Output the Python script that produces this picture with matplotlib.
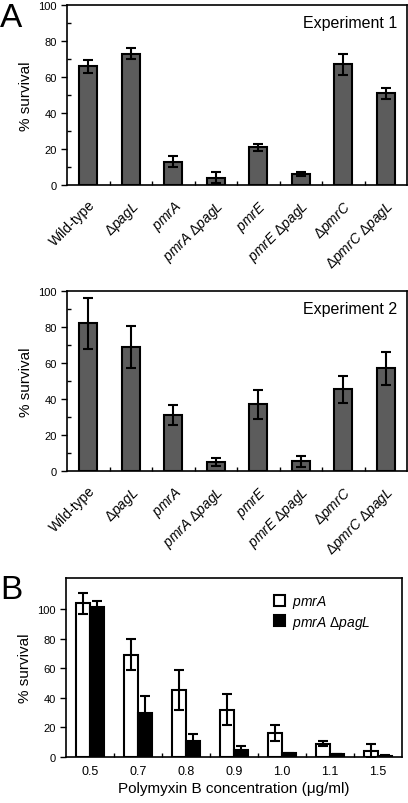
import numpy as np
import matplotlib
matplotlib.use('Agg')
import matplotlib.pyplot as plt
from matplotlib.ticker import MultipleLocator, FixedLocator

plt.rcParams['font.family'] = ['Liberation Sans', 'DejaVu Sans']
plt.rcParams['mathtext.fontset'] = 'custom'
plt.rcParams['mathtext.rm'] = 'Liberation Sans'
plt.rcParams['mathtext.it'] = 'Liberation Sans:italic'

# strains (panel A)
strains = ['Wild-type', r'$\Delta\mathit{pagL}$', r'$\mathit{pmrA}$',
           r'$\mathit{pmrA}$ $\Delta\mathit{pagL}$', r'$\mathit{pmrE}$',
           r'$\mathit{pmrE}$ $\Delta\mathit{pagL}$', r'$\Delta\mathit{pmrC}$',
           r'$\Delta\mathit{pmrC}$ $\Delta\mathit{pagL}$']
exp1 = [66, 73, 13, 4, 21, 6, 67, 51]
exp1_err = [3.5, 3, 3, 3, 2, 1, 6, 3]
exp2 = [82, 69, 31, 5, 37, 5.5, 45.5, 57]
exp2_err = [14, 11.5, 5.5, 2, 8, 3, 7.5, 9]

# panel B
conc = ['0.5', '0.7', '0.8', '0.9', '1.0', '1.1', '1.5']
pmrA = [104, 69, 45, 32, 16, 9, 4]
pmrA_err = [7, 10.5, 13.5, 10.5, 5.5, 1.5, 4.5]
pmrA_pagL = [101.5, 30, 10.5, 5, 2.5, 2, 1]
pmrA_pagL_err = [4, 11, 5, 2.5, 0.5, 0.3, 0.2]

W, H = 408, 804
fig = plt.figure(figsize=(W / 100, H / 100), dpi=100)

def ax_at(left, top, right, bottom):
    return fig.add_axes([left / W, 1 - bottom / H, (right - left) / W, (bottom - top) / H])

def panel_a(ax, vals, errs, title):
    x = np.arange(len(vals))
    ax.bar(x, vals, width=0.42, color='#5c5c5c', edgecolor='black', linewidth=1.5, zorder=2)
    ax.errorbar(x, vals, yerr=errs, fmt='none', ecolor='black', elinewidth=1.5,
                capsize=3.5, capthick=1.5, zorder=3)
    ax.set_xlim(-0.5, len(vals) - 0.5)
    ax.set_ylim(0, 100)
    ax.yaxis.set_major_locator(MultipleLocator(20))
    ax.yaxis.set_minor_locator(MultipleLocator(10))
    ax.tick_params(axis='y', which='major', direction='out', length=4, width=1, labelsize=8)
    ax.tick_params(axis='y', which='minor', direction='in', length=3, width=1)
    ax.set_xticks(x)
    ax.set_xticklabels(strains, rotation=45, ha='right', rotation_mode='anchor', fontsize=10)
    ax.xaxis.set_minor_locator(FixedLocator(x[:-1] + 0.5))
    ax.tick_params(axis='x', which='major', length=0, pad=9)
    ax.tick_params(axis='x', which='minor', direction='in', length=3, width=1)
    ax.set_ylabel('% survival', fontsize=11, labelpad=4)
    ax.text(0.97, 0.905, title, transform=ax.transAxes, ha='right', va='center', fontsize=11.5)
    for s in ax.spines.values():
        s.set_linewidth(1.2)

ax1 = ax_at(67, 6, 407, 186)
panel_a(ax1, exp1, exp1_err, 'Experiment 1')
ax2 = ax_at(67, 292, 407, 472)
panel_a(ax2, exp2, exp2_err, 'Experiment 2')

ax3 = ax_at(66, 579, 402, 758)
xb = np.arange(len(conc))
bw = 0.29
ax3.bar(xb - bw / 2, pmrA, width=bw, color='white', edgecolor='black', linewidth=1.5,
        label=r'$\mathit{pmrA}$', zorder=2)
ax3.bar(xb + bw / 2, pmrA_pagL, width=bw, color='black', edgecolor='black', linewidth=1.5,
        label=r'$\mathit{pmrA}$ $\Delta\mathit{pagL}$', zorder=2)
ax3.errorbar(xb - bw / 2, pmrA, yerr=pmrA_err, fmt='none', ecolor='black', elinewidth=1.5,
             capsize=3.5, capthick=1.5, zorder=3)
ax3.errorbar(xb + bw / 2, pmrA_pagL, yerr=pmrA_pagL_err, fmt='none', ecolor='black',
             elinewidth=1.5, capsize=3.5, capthick=1.5, zorder=3)
ax3.set_xlim(-0.5, len(conc) - 0.5)
ax3.set_ylim(0, 121)
ax3.yaxis.set_major_locator(FixedLocator([0, 20, 40, 60, 80, 100]))
ax3.tick_params(axis='y', direction='out', length=4, width=1, labelsize=8)
ax3.set_xticks(xb)
ax3.set_xticklabels(conc, fontsize=9)
ax3.xaxis.set_minor_locator(FixedLocator(xb[:-1] + 0.5))
ax3.tick_params(axis='x', which='major', length=0, pad=6)
ax3.tick_params(axis='x', which='minor', direction='in', length=3, width=1)
ax3.set_ylabel('% survival', fontsize=11, labelpad=4)
ax3.set_xlabel('Polymyxin B concentration (\u03bcg/ml)', fontsize=11, labelpad=3)
for s in ax3.spines.values():
    s.set_linewidth(1.2)
ax3.legend(loc='upper left', bbox_to_anchor=(0.59, 0.97), frameon=False, fontsize=10,
           handlelength=0.8, handleheight=0.8, handletextpad=0.5, labelspacing=0.25,
           borderpad=0.2)

fig.text(0 / W, 1 - 3 / H, 'A', fontsize=24, ha='left', va='top')
fig.text(0 / W, 1 - 575 / H, 'B', fontsize=24, ha='left', va='top')

fig.savefig('out.png', dpi=100)
